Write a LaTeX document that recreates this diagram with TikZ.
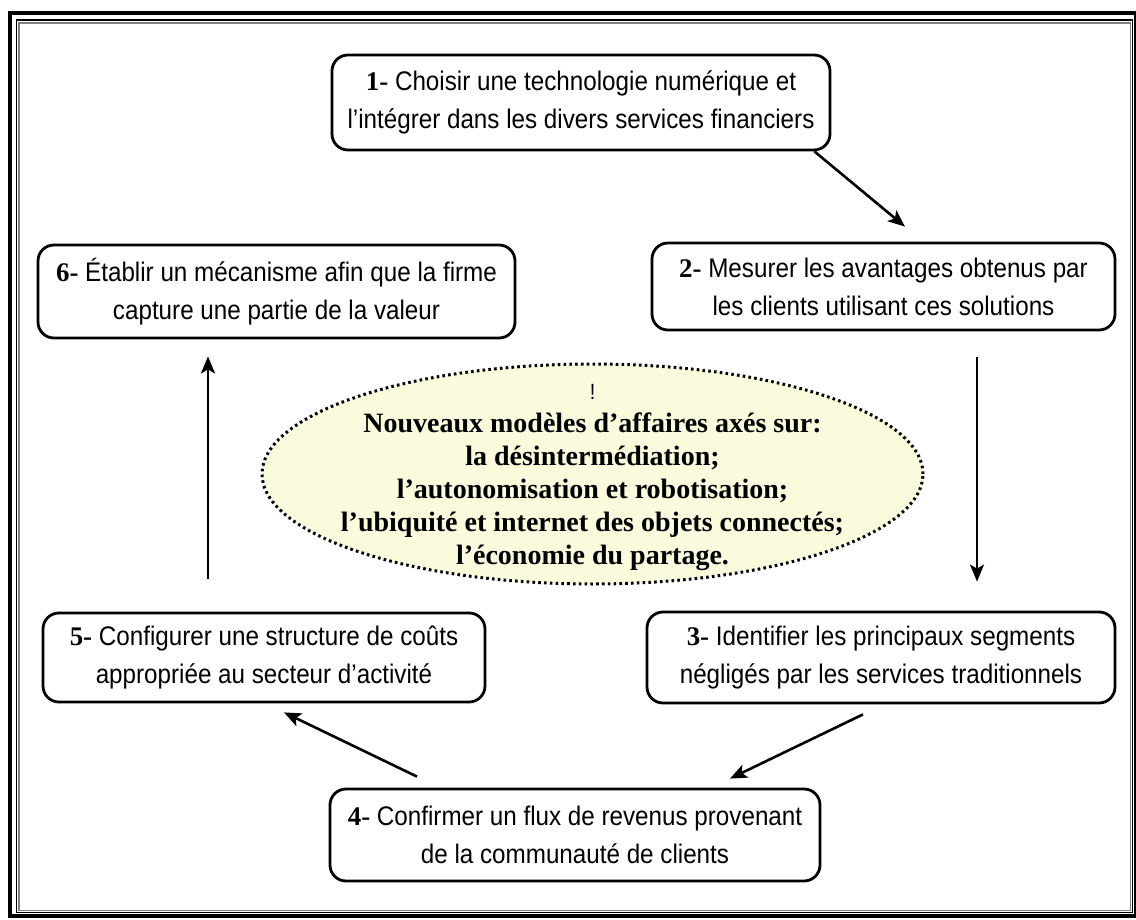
\documentclass[tikz,border=0pt]{standalone}
\usepackage{fontspec}
\usetikzlibrary{arrows.meta,shapes.geometric,calc}
\newfontfamily\boxfont[FakeStretch=0.9]{Liberation Sans}
\newfontfamily\numfont{Liberation Serif}
\newfontfamily\ellfont{Liberation Serif}
\definecolor{ellfill}{RGB}{250,250,220}
\definecolor{framegray}{RGB}{128,128,128}
\newcommand{\stepnum}[1]{{\numfont\bfseries #1}}
\tikzset{
  stepbox/.style={draw, line width=2.8pt, rounded corners=16pt, align=center,
    inner sep=0pt, font=\boxfont\fontsize{26.9}{38}\selectfont},
  flowarrow/.style={line width=2.6pt, -{Stealth[length=17pt,width=14pt,inset=4pt]}},
  ideaellipse/.style={ellipse, draw, fill=ellfill, line width=3pt,
    dash pattern=on 2.6pt off 3.2pt, inner sep=0pt},
  ideatext/.style={align=center, inner sep=0pt,
    font=\ellfont\bfseries\fontsize{28}{33}\selectfont}
}
\begin{document}
\begin{tikzpicture}[x=1pt,y=-1pt]
\useasboundingbox (0,0) rectangle (1136,920);
% frame
\draw[line width=3.5pt] (10,13) rectangle (1135.5,916);
\draw[line width=1.2pt] (16.2,20) rectangle (1132.6,912.3);
\draw[framegray, line width=1.6pt] (19.2,23) rectangle (1130.5,910.3);

% central ellipse
\node[ideaellipse, minimum width=661pt, minimum height=220pt] (ell) at (592.5,474) {};
\node[ideatext] (elltext) at ($(ell.center)+(0,4)$)
  {{\boxfont\mdseries\fontsize{22}{33}\selectfont !}\\
   Nouveaux modèles d’affaires axés sur:\\
   la désintermédiation;\\
   l’autonomisation et robotisation;\\
   l’ubiquité et internet des objets connectés;\\
   l’économie du partage.};

% boxes
\node[stepbox, minimum width=498pt, minimum height=95pt] (b1) at (581,102.5)
  {\stepnum{1-} Choisir une technologie numérique et\\ l’intégrer dans les divers services financiers};
\node[stepbox, minimum width=463pt, minimum height=87pt] (b2) at (883.5,286.5)
  {\stepnum{2-} Mesurer les avantages obtenus par\\ les clients utilisant ces solutions};
\node[stepbox, minimum width=468pt, minimum height=91pt] (b3) at (881,657.5)
  {\stepnum{3-} Identifier les principaux segments\\ négligés par les services traditionnels};
\node[stepbox, minimum width=490pt, minimum height=92pt] (b4) at (575,835)
  {\stepnum{4-} Confirmer un flux de revenus provenant\\ de la communauté de clients};
\node[stepbox, minimum width=442pt, minimum height=89pt] (b5) at (264,657.5)
  {\stepnum{5-} Configurer une structure de coûts\\ appropriée au secteur d’activité};
\node[stepbox, minimum width=477pt, minimum height=93pt] (b6) at (276.5,291.5)
  {\stepnum{6-} Établir un mécanisme afin que la firme\\ capture une partie de la valeur};

% arrows
\draw[flowarrow] ($(b1.south east)+(-17,0)$) -- ($(b2.north)+(21.5,-15)$);
\draw[flowarrow] ($(b2.south)+(93.5,26)$) -- ($(b3.north)+(96,-29)$);
\draw[flowarrow] ($(b3.south)+(-18,10)$) -- ($(b4.north)+(155,-9)$);
\draw[flowarrow] ($(b4.north)+(-158,-11)$) -- ($(b5.south)+(20,9)$);
\draw[flowarrow] ($(b5.north)+(-56,-33)$) -- ($(b6.south)+(-68.5,17)$);
\end{tikzpicture}
\end{document}
